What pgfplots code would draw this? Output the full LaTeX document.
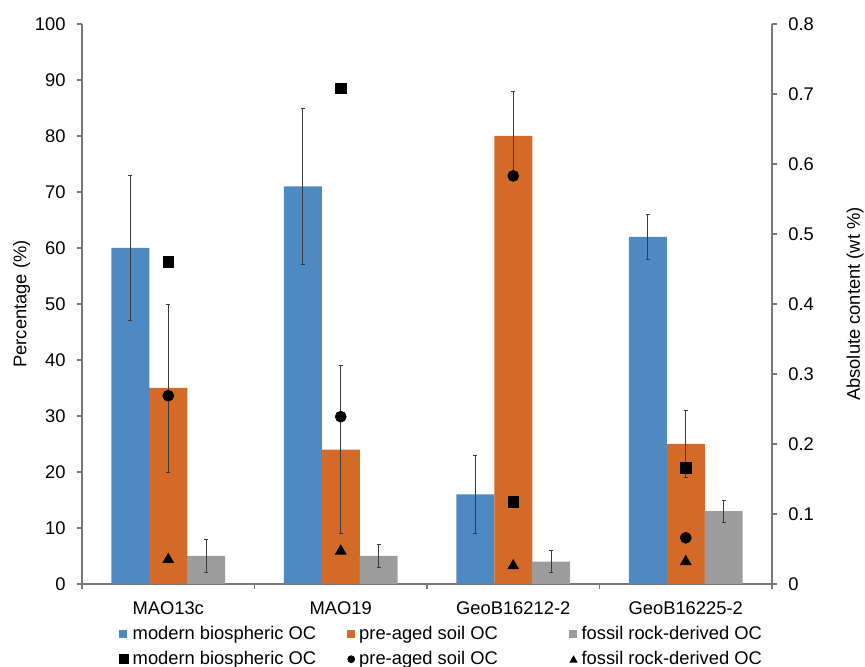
\documentclass[border=0pt]{standalone}
\usepackage{pgfplots}
\pgfplotsset{compat=1.18}
\usepackage{fontspec}
\setmainfont{Liberation Sans}
\definecolor{cBlue}{HTML}{4F89C2}
\definecolor{cOrange}{HTML}{D46A28}
\definecolor{cGray}{HTML}{9C9C9C}
\definecolor{cAxis}{HTML}{777777}
\definecolor{cErr}{HTML}{3A3A3A}
\pgfplotsset{
  base/.style={
    scale only axis, width=414pt, height=336pt,
    xmin=-0.5, xmax=3.5,
    axis line style={cAxis, line width=0.9pt, -},
    tick align=outside, major tick length=3pt,
    tick style={cAxis, line width=0.9pt},
    /pgf/number format/assume math mode=true,
    tick label style={font=\fontsize{11pt}{13pt}\selectfont, black},
    label style={font=\fontsize{11pt}{13pt}\selectfont},
  },
  errs/.style={
    error bars/.cd, y dir=both, y explicit,
    error bar style={line width=0.45pt, cErr},
    error mark options={rotate=90, mark size=1.3pt, line width=0.45pt, cErr},
  },
}
\begin{document}
\fontsize{11pt}{13pt}\selectfont
\begin{tikzpicture}
\path[use as bounding box] (-49.2pt,-49.8pt) rectangle (469.8pt,350.4pt);
\begin{axis}[base,
  ymin=0, ymax=100,
  axis y line*=left, axis x line*=bottom,
  ytick={0,10,...,100},
  xtick={0,1,2,3}, xticklabels={MAO13c,MAO19,GeoB16212-2,GeoB16225-2},
  xtick style={draw=none},
  extra x ticks={-0.5,0.5,1.5,2.5,3.5}, extra x tick labels={},
  extra x tick style={xtick style={draw=cAxis, line width=0.9pt}},
  xticklabel style={yshift=-4pt},
  yticklabel style={xshift=-3pt},
  ylabel={Percentage (\%)},
  ylabel style={at={(axis description cs:-0.0875,0.5)}, anchor=center},
]
% modern biospheric OC (bars drawn at group centre - 0.22)
\addplot[ybar, bar width=22.8pt, bar shift=0pt, fill=cBlue, draw=none, errs]
  coordinates {(-0.22,60) +- (0,13) (0.78,71) +- (0,14) (1.78,16) +- (0,7) (2.78,62) +- (0,4)};
% pre-aged soil OC
\addplot[ybar, bar width=22.8pt, bar shift=0pt, fill=cOrange, draw=none, errs]
  coordinates {(0,35) +- (0,15) (1,24) +- (0,15) (2,80) +- (0,8) (3,25) +- (0,6)};
% fossil rock-derived OC (group centre + 0.22)
\addplot[ybar, bar width=22.8pt, bar shift=0pt, fill=cGray, draw=none, errs]
  coordinates {(0.22,5) +- (0,3) (1.22,5) +- (0,2) (2.22,4) +- (0,2) (3.22,13) +- (0,2)};
\end{axis}
\begin{axis}[base,
  ymin=0, ymax=0.8,
  axis y line*=right, axis x line=none,
  ytick={0,0.1,0.2,0.3,0.4,0.5,0.6,0.7,0.8},
  yticklabel style={/pgf/number format/fixed, /pgf/number format/precision=1, xshift=3pt},
  ylabel={Absolute content (wt \%)},
  ylabel style={at={(axis description cs:1.1203,0.5)}, anchor=center},
  legend columns=3,
  legend cell align=left,
  legend style={at={(axis description cs:0.053,-0.0714)}, anchor=north west,
    draw=none, fill=none, inner sep=0pt, column sep=0pt, row sep=3.5pt,
    font=\fontsize{11pt}{13pt}\selectfont,
    nodes={inner xsep=0.5pt, inner ysep=1pt}},
]
\addlegendimage{legend image code/.code={\fill[cBlue] (0pt,-2.1pt) rectangle (4.2pt,2.1pt);}}
\addlegendentry{\makebox[130pt][l]{\hspace{2pt}modern biospheric OC}}
\addlegendimage{legend image code/.code={\fill[cOrange] (0pt,-2.1pt) rectangle (4.2pt,2.1pt);}}
\addlegendentry{\makebox[127.5pt][l]{\hspace{2pt}pre-aged soil OC}}
\addlegendimage{legend image code/.code={\fill[cGray] (0pt,-2.1pt) rectangle (4.2pt,2.1pt);}}
\addlegendentry{\hspace{2pt}fossil rock-derived OC}
\addlegendimage{legend image code/.code={\fill[black] (0pt,-2.7pt) rectangle (5.4pt,2.7pt);}}
\addlegendentry{\makebox[130pt][l]{\hspace{2pt}modern biospheric OC}}
\addlegendimage{legend image code/.code={\fill[black] (2.4pt,0pt) circle (2.1pt);}}
\addlegendentry{\makebox[127.5pt][l]{\hspace{2pt}pre-aged soil OC}}
\addlegendimage{legend image code/.code={\fill[black] (0.3pt,-1.8pt) -- (4.5pt,-1.8pt) -- (2.4pt,1.9pt) -- cycle;}}
\addlegendentry{\hspace{2pt}fossil rock-derived OC}
\addplot[only marks, mark=square*, mark size=3.2pt, black, forget plot]
  coordinates {(0,0.460) (1,0.708) (2,0.117) (3,0.166)};
\addplot[only marks, mark=*, mark size=3.3pt, black, forget plot]
  coordinates {(0,0.269) (1,0.239) (2,0.583) (3,0.066)};
\addplot[only marks, mark=triangle*, mark size=3.7pt, black, forget plot]
  coordinates {(0,0.035) (1,0.047) (2,0.026) (3,0.032)};
\end{axis}
\end{tikzpicture}
\end{document}
